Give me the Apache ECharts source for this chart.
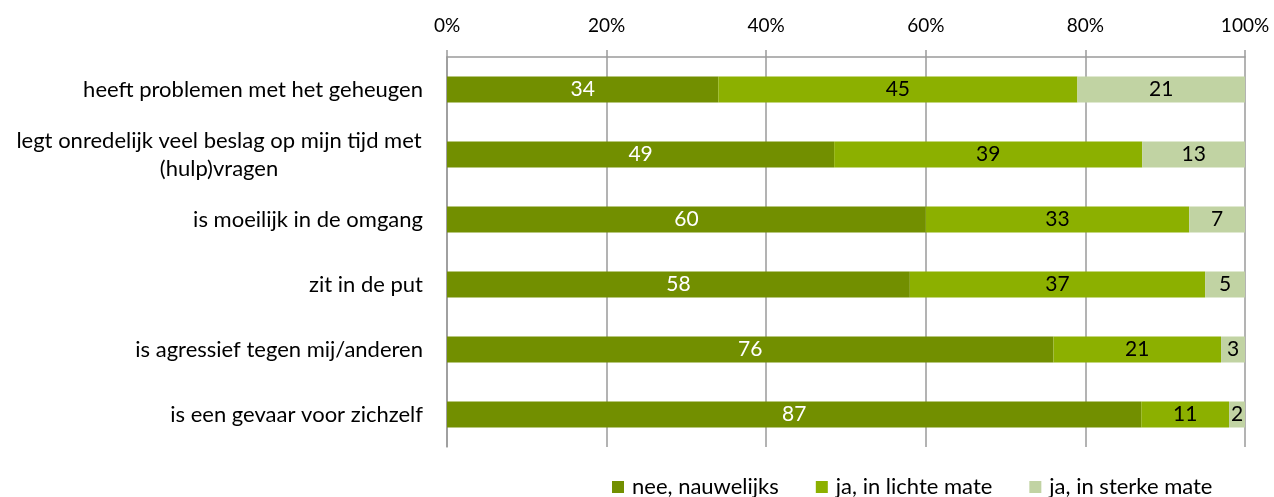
<!DOCTYPE html>
<html>
<head>
<meta charset="utf-8">
<script src="https://cdn.jsdelivr.net/npm/echarts@6/dist/echarts.min.js"></script>
<style>
  html, body { margin: 0; padding: 0; background: #fff; }
  #chart { width: 1274px; height: 497px; }
</style>
</head>
<body>
<div id="chart"></div>
<script>
// Statements, top to bottom
const categories = [
  'heeft problemen met het geheugen',
  'legt onredelijk veel beslag op mijn tijd met\n(hulp)vragen',
  'is moeilijk in de omgang',
  'zit in de put',
  'is agressief tegen mij/anderen',
  'is een gevaar voor zichzelf'
];
const seriesNames = ['nee, nauwelijks', 'ja, in lichte mate', 'ja, in sterke mate'];
const nee = [34, 49, 60, 58, 76, 87];
const licht = [45, 39, 33, 37, 21, 11];
const sterk = [21, 13, 7, 5, 3, 2];
const tickLabels = ['0%', '20%', '40%', '60%', '80%', '100%'];

const colors = ['#728f00', '#8cb000', '#c1d3a3'];
const labelColors = ['#ffffff', '#000000', '#000000'];
const FONT = 'Lato, "Open Sans", sans-serif';
const CAT_SIZE = 22;

// Each bar is a share of its row total (100% stacked)
const raw = [nee, licht, sterk];
const totals = categories.map((_, i) => nee[i] + licht[i] + sterk[i]);

// Width of a label line, so wrapped lines can be centred on each other
const ctx = document.createElement('canvas').getContext('2d');
ctx.font = CAT_SIZE + 'px ' + FONT;
function lineWidth(s) { return Math.ceil(ctx.measureText(s).width) + 2; }

const series = raw.map((vals, s) => ({
  name: seriesNames[s],
  type: 'bar',
  stack: 'total',
  barWidth: '40%',
  itemStyle: { color: colors[s] },
  label: {
    show: true,
    position: 'inside',
    color: labelColors[s],
    fontFamily: FONT,
    fontSize: 21,
    formatter: p => String(vals[p.dataIndex])
  },
  data: vals.map((v, i) => v / totals[i] * 100)
}));

const chart = echarts.init(document.getElementById('chart'), null, { renderer: 'canvas' });
chart.setOption({
  animation: false,
  textStyle: { fontFamily: FONT },
  grid: { left: 447, right: 29, top: 57, bottom: 50, containLabel: false },
  legend: {
    data: seriesNames,
    bottom: -6,
    left: 607,
    itemWidth: 12,
    itemHeight: 12,
    itemGap: 37,
    icon: 'rect',
    textStyle: { fontFamily: FONT, fontSize: 22, color: '#000', padding: [0, 0, 0, 3] }
  },
  xAxis: {
    type: 'value',
    position: 'top',
    min: 0,
    max: 100,
    interval: 20,
    axisLine: { show: true, lineStyle: { color: '#9a9a9a', width: 1.5 } },
    axisTick: { show: true, length: 7, lineStyle: { color: '#9a9a9a', width: 1.5 } },
    splitLine: { show: true, lineStyle: { color: '#9a9a9a', width: 1.5 } },
    axisLabel: {
      color: '#000',
      fontFamily: FONT,
      fontSize: 19,
      margin: 22,
      formatter: v => tickLabels[Math.round(v / 20)]
    }
  },
  yAxis: {
    type: 'category',
    inverse: true,
    data: categories,
    axisLine: { show: true, lineStyle: { color: '#9a9a9a', width: 1.5 } },
    axisTick: { show: false },
    axisLabel: {
      color: '#000',
      fontFamily: FONT,
      fontSize: CAT_SIZE,
      lineHeight: 28,
      margin: 24,
      align: 'right',
      formatter: v => {
        const parts = v.split('\n');
        if (parts.length < 2) return v;
        return parts.map(p => '{c|' + p + '}').join('\n');
      },
      rich: {
        c: {
          fontFamily: FONT, fontSize: CAT_SIZE, lineHeight: 28, align: 'center',
          width: lineWidth('legt onredelijk veel beslag op mijn tijd met')
        }
      }
    }
  },
  series
});
</script>
</body>
</html>
